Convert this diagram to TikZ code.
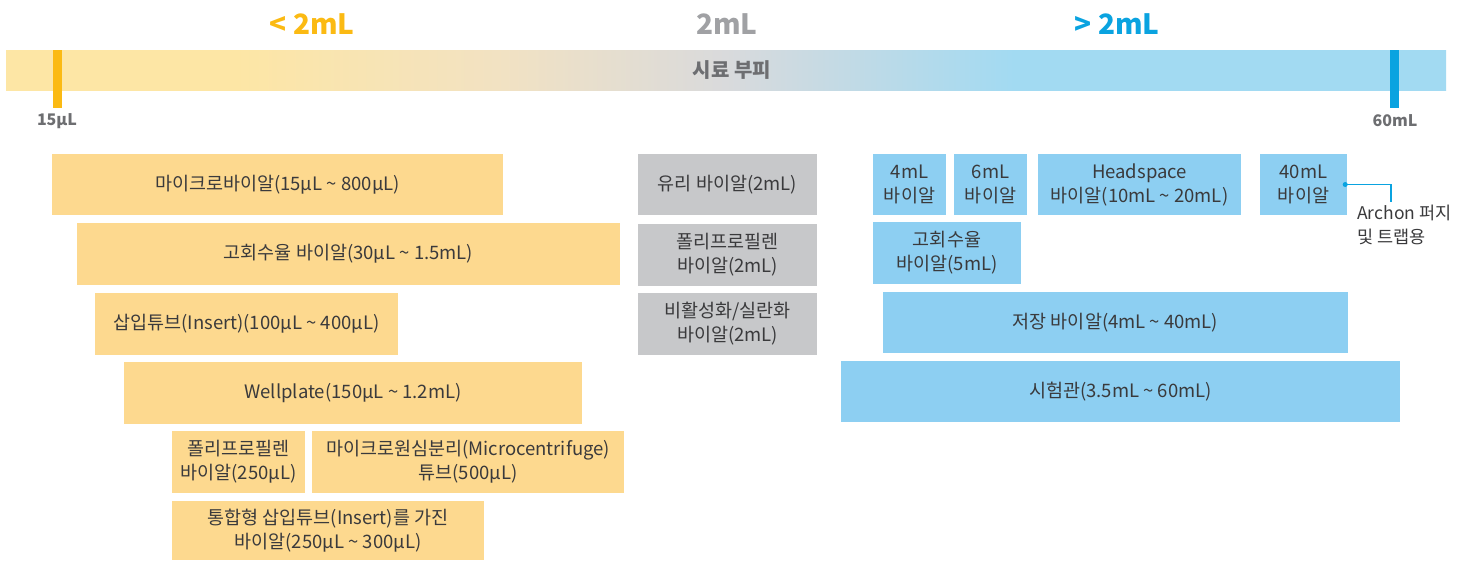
\documentclass[tikz,border=0pt]{standalone}
\usepackage{fontspec}
\setmainfont{Noto Sans CJK KR}
\usetikzlibrary{positioning}

\definecolor{lowyellow}{HTML}{FBBA13}
\definecolor{midgrey}{HTML}{A0A1A4}
\definecolor{highblue}{HTML}{0AA3E0}
\definecolor{labelgrey}{HTML}{6D6E71}
\definecolor{textgrey}{HTML}{3A3A3C}
\definecolor{bary}{HTML}{FDE6A5}
\definecolor{bartan}{HTML}{F2E2C2}
\definecolor{bargrey}{HTML}{D9DADC}
\definecolor{barblue}{HTML}{A2DAF2}
\definecolor{boxyellow}{HTML}{FDD98F}
\definecolor{boxgrey}{HTML}{C7C8CA}
\definecolor{boxblue}{HTML}{8DCFF2}

\pgfdeclarehorizontalshading{volumebar}{100bp}{color(0bp)=(bary); color(25bp)=(bary);
  color(33bp)=(bary); color(42bp)=(bartan); color(50bp)=(bargrey);
  color(60bp)=(barblue); color(75bp)=(barblue); color(100bp)=(barblue)}

\tikzset{
  rangehead/.style={font=\fontsize{28}{30}\selectfont\bfseries},
  ticklabel/.style={text=labelgrey, font=\fontsize{16}{18}\selectfont\bfseries},
  vialbox/.style={align=center, inner sep=0pt, text=textgrey,
    font=\fontsize{18.5}{24}\selectfont},
  lowbox/.style={vialbox, fill=boxyellow},
  twobox/.style={vialbox, fill=boxgrey},
  highbox/.style={vialbox, fill=boxblue},
}

\begin{document}
\begin{tikzpicture}[x=1pt, y=-1pt]
    \useasboundingbox (0,0) rectangle (1472,560);

    % Range headings
    \node[rangehead, text=lowyellow] (lowhead) at (312,24) {< 2mL};
    \node[rangehead, text=midgrey] (midhead) at (727,24) {2mL};
    \node[rangehead, text=highblue] (highhead) at (1117,24) {> 2mL};

    % Sample volume bar
    \shade[shading=volumebar] (6,50) rectangle (1446,90);
    \node[text=labelgrey, font=\fontsize{20}{22}\selectfont\bfseries] (volume) at (732,70) {시료 부피};

    % Min and max marks
    \fill[lowyellow] (53,50) rectangle (62,108);
    \fill[highblue] (1390,50) rectangle (1399,108);
    \node[ticklabel] (minlabel) at (57,121) {15μL};
    \node[ticklabel] (maxlabel) at (1395,121) {60mL};

    % Vials below 2mL
    \node[lowbox, minimum width=451pt, minimum height=61pt] (micro) at (277.5,184.5) {마이크로바이알(15μL \textasciitilde{} 800μL)};
    \node[lowbox, minimum width=543pt, minimum height=62pt] (hirec) at (348.5,254) {고회수율 바이알(30μL \textasciitilde{} 1.5mL)};
    \node[lowbox, minimum width=303pt, minimum height=62pt] (insert) at (246.5,324) {삽입튜브(Insert)(100μL \textasciitilde{} 400μL)};
    \node[lowbox, minimum width=458pt, minimum height=62pt] (wellplate) at (353,393) {Wellplate(150μL \textasciitilde{} 1.2mL)};
    \node[lowbox, minimum width=133pt, minimum height=62pt] (ppsmall) at (238.5,462) {폴리프로필렌\\바이알(250μL)};
    \node[lowbox, minimum width=312pt, minimum height=62pt] (centri) at (468,462) {마이크로원심분리(Microcentrifuge)\\튜브(500μL)};
    \node[lowbox, minimum width=312pt, minimum height=59pt] (integ) at (328,530.5) {통합형 삽입튜브(Insert)를 가진\\바이알(250μL \textasciitilde{} 300μL)};

    % Vials at 2mL
    \node[twobox, minimum width=179pt, minimum height=61pt] (glass) at (727.5,184.5) {유리 바이알(2mL)};
    \node[twobox, minimum width=179pt, minimum height=62pt] (ppvial) at (727.5,255) {폴리프로필렌\\바이알(2mL)};
    \node[twobox, minimum width=179pt, minimum height=62pt] (deact) at (727.5,324) {비활성화/실란화\\바이알(2mL)};

    % Vials above 2mL
    \node[highbox, minimum width=73pt, minimum height=61pt] (four) at (909.5,184.5) {4mL\\바이알};
    \node[highbox, minimum width=73pt, minimum height=61pt] (six) at (990.5,184.5) {6mL\\바이알};
    \node[highbox, minimum width=203pt, minimum height=61pt] (headsp) at (1139.5,184.5) {Headspace\\바이알(10mL \textasciitilde{} 20mL)};
    \node[highbox, minimum width=87pt, minimum height=61pt] (forty) at (1303.5,184.5) {40mL\\바이알};
    \node[highbox, minimum width=148pt, minimum height=62pt] (hirecfive) at (947,253) {고회수율\\바이알(5mL)};
    \node[highbox, minimum width=465pt, minimum height=61pt] (storage) at (1115.5,322.5) {저장 바이알(4mL \textasciitilde{} 40mL)};
    \node[highbox, minimum width=559pt, minimum height=61pt] (testtube) at (1120.5,391.5) {시험관(3.5mL \textasciitilde{} 60mL)};

    % Archon callout
    \coordinate (archonend) at (1391,202);
    \node[anchor=north west, align=left, inner sep=0pt, text=textgrey,
      font=\fontsize{17.5}{24}\selectfont] (archon) at (1357,205) {Archon 퍼지\\및 트랩용};
    \draw[highblue, line width=1.2pt] ([xshift=-2pt]forty.east) -| (archonend);
    \fill[highblue] ([xshift=-2pt]forty.east) circle (2.5pt);
\end{tikzpicture}
\end{document}
